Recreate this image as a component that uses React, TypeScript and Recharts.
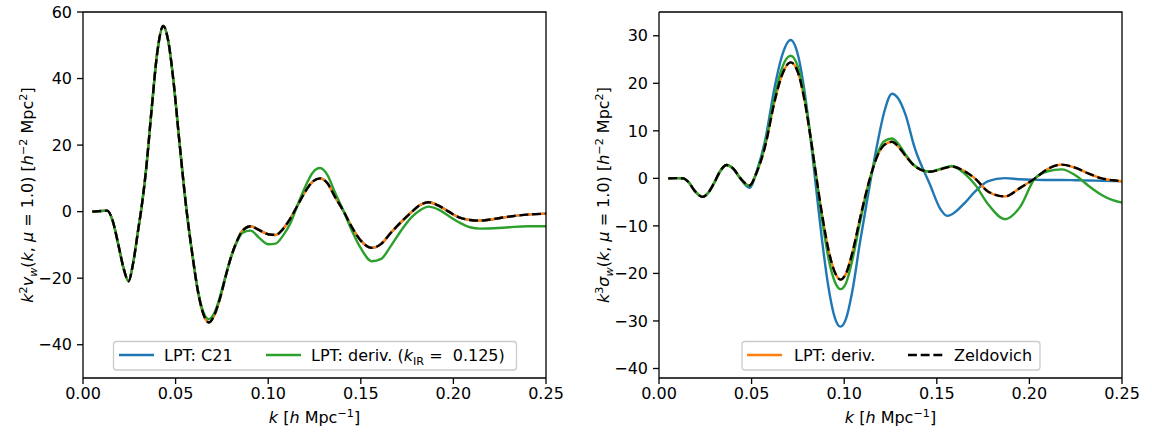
import React from 'react';
import { LineChart, Line, XAxis, YAxis } from 'recharts';

const FONT = '"DejaVu Sans", Verdana, sans-serif';
const BLUE = '#1f77b4';
const ORANGE = '#ff7f0e';
const GREEN = '#2ca02c';
const BLACK = '#000000';

const kTicks = [0, 0.05, 0.1, 0.15, 0.2, 0.25];
const velTicks = [-40, -20, 0, 20, 40, 60];
const sigTicks = [-40, -30, -20, -10, 0, 10, 20, 30];

// left panel: k^2 v_w
const velK = [0.005, 0.010, 0.013, 0.016, 0.019, 0.022, 0.0246, 0.027, 0.030, 0.0313, 0.034, 0.037, 0.040, 0.0433, 0.046, 0.049, 0.052, 0.056, 0.059, 0.062, 0.065, 0.068, 0.071, 0.074, 0.077, 0.080, 0.083, 0.086, 0.0905, 0.095, 0.100, 0.104, 0.108, 0.112, 0.116, 0.120, 0.124, 0.128, 0.132, 0.136, 0.1408, 0.145, 0.150, 0.156, 0.161, 0.166, 0.172, 0.1776, 0.182, 0.1866, 0.192, 0.1975, 0.203, 0.209, 0.2144, 0.222, 0.230, 0.240, 0.250];
const velZel = [0, 0.2, 0.3, -2.7, -9.7, -17.2, -20.9, -15.7, -4.7, 0, 12.3, 30.4, 47.4, 55.8, 51.4, 38.5, 21.3, 0, -12.7, -23.8, -30.8, -33.3, -31, -26, -19.5, -13.5, -9, -5.8, -4.4, -5.5, -6.8, -7.0, -5.2, -2, 2, 6, 9, 10, 8.5, 4.5, 0, -4.5, -8.7, -10.9, -9.7, -6.5, -3, 0, 2, 2.8, 1.8, 0, -1.7, -2.5, -2.7, -2.2, -1.5, -0.9, -0.6];
// C21 and LPT: deriv. sit on top of Zeldovich in this panel
const velC21 = velZel;
const velDeriv = velZel;
const velKir = [0, 0.2, 0.3, -2.7, -9.7, -17.2, -20.9, -15.7, -4.7, 0, 12.3, 30.4, 47.4, 55.8, 51.4, 38.5, 21.3, 0, -12.7, -23.5, -30.2, -32.3, -30.3, -25.5, -19.3, -13.6, -9.3, -6.4, -5.7, -7.8, -9.8, -9.6, -7.2, -3.5, 2.2, 7.5, 11.7, 13.1, 11, 5.8, 0, -5.5, -11, -14.9, -14.2, -10.5, -5.5, -1.6, 0.4, 1.5, 0.6, -1.3, -3.2, -4.7, -5.1, -5.0, -4.7, -4.4, -4.4];

// right panel: k^3 sigma_w
const sigK = [0.005, 0.010, 0.013, 0.016, 0.019, 0.0236, 0.027, 0.030, 0.033, 0.0365, 0.040, 0.044, 0.0488, 0.053, 0.0572, 0.0626, 0.0662, 0.0711, 0.075, 0.0788, 0.082, 0.0845, 0.088, 0.0915, 0.095, 0.098, 0.101, 0.1045, 0.1085, 0.1139, 0.118, 0.1215, 0.1258, 0.129, 0.133, 0.138, 0.1463, 0.152, 0.1555, 0.158, 0.165, 0.1706, 0.1778, 0.1868, 0.195, 0.203, 0.210, 0.2174, 0.225, 0.232, 0.239, 0.245, 0.250];
const sigZel = [0, 0.05, 0, -0.8, -2.5, -3.9, -2.8, -0.8, 1.5, 2.8, 2.1, 0, -1.5, 1.5, 6.6, 16.5, 21.5, 24.4, 22.3, 16, 8.2, 1.5, -7.5, -15, -19.8, -21.3, -20, -15.5, -8.5, 0, 4.8, 7.0, 7.7, 6.8, 4.8, 2.6, 1.4, 1.9, 2.3, 2.5, 1.5, 0, -2.8, -3.8, -2.0, 0, 2.0, 2.9, 2.2, 1.0, 0, -0.4, -0.6];
const sigDeriv = sigZel;
const sigC21 = [0, 0.05, 0, -0.8, -2.5, -3.9, -2.8, -0.8, 1.5, 2.8, 2.0, -0.1, -2.0, 1.8, 7.8, 19.5, 25.5, 29.1, 26.0, 17.7, 7.8, -0.9, -12.9, -22.9, -29.4, -31.2, -29.5, -23.5, -13.5, -1.2, 7.5, 13.8, 17.8, 16.9, 13.5, 6.5, -1.3, -6.5, -7.9, -7.6, -5.2, -2.8, -0.6, 0.05, -0.2, -0.3, -0.35, -0.35, -0.4, -0.45, -0.5, -0.55, -0.6];
const sigKir = [0, 0.05, 0, -0.8, -2.5, -3.9, -2.8, -0.8, 1.5, 2.8, 2.1, 0, -1.6, 1.6, 7.0, 17.5, 23, 25.8, 23.5, 16.8, 8.4, 1.4, -8.5, -16.8, -21.8, -23.3, -22, -17, -9.3, -0.2, 5.2, 7.8, 8.4, 7.4, 5.1, 2.7, 1.4, 2.0, 2.4, 2.6, 1.0, -1.3, -5.5, -8.6, -6.0, 0.0, 1.5, 1.9, 0.6, -1.6, -3.5, -4.6, -5.1];

const pts = (ks: number[], vs: number[]) => ks.map((k, i) => ({ k, v: vs[i] }));
const fmtK = (v: number) => v.toFixed(2);
const fmtY = (v: number) => (v < 0 ? '\u2212' + Math.abs(v) : String(v));

type Part = { t: string; i?: boolean; sup?: boolean; sub?: boolean };

const renderParts = (parts: Part[], size = 16) => {
  let cur = 0;
  return parts.map((p, idx) => {
    const shift = p.sup ? -0.4 * size : p.sub ? 0.22 * size : 0;
    const dy = shift - cur;
    cur = shift;
    return (
      <tspan key={idx} dy={dy} fontStyle={p.i ? 'italic' : 'normal'} fontSize={p.sup || p.sub ? size * 0.7 : size}>
        {p.t}
      </tspan>
    );
  });
};

const velLabel: Part[] = [
  { t: 'k', i: true }, { t: '2', sup: true }, { t: 'v', i: true }, { t: 'w', i: true, sub: true },
  { t: '(' }, { t: 'k', i: true }, { t: ', ' }, { t: 'μ', i: true }, { t: ' = 1.0) [' },
  { t: 'h', i: true }, { t: '\u22122', sup: true }, { t: ' Mpc' }, { t: '2', sup: true }, { t: ']' },
];
const sigLabel: Part[] = [
  { t: 'k', i: true }, { t: '3', sup: true }, { t: 'σ', i: true }, { t: 'w', i: true, sub: true },
  { t: '(' }, { t: 'k', i: true }, { t: ', ' }, { t: 'μ', i: true }, { t: ' = 1.0) [' },
  { t: 'h', i: true }, { t: '\u22122', sup: true }, { t: ' Mpc' }, { t: '2', sup: true }, { t: ']' },
];
const kLabel: Part[] = [{ t: 'k', i: true }, { t: ' [' }, { t: 'h', i: true }, { t: ' Mpc' }, { t: '\u22121', sup: true }, { t: ']' }];

type Series = { data: { k: number; v: number }[]; color: string; dash?: string };

function Panel({ series, yDomain, yTicks }: { series: Series[]; yDomain: number[]; yTicks: number[] }) {
  const tickStyle = { fill: '#000', fontSize: 16, fontFamily: FONT };
  const axisLine = { stroke: '#000', strokeWidth: 1.3 };
  return (
    <LineChart width={576} height={432} margin={{ top: 12, right: 30, bottom: 24, left: 23 }}>
      <XAxis dataKey="k" type="number" domain={[0, 0.25]} ticks={kTicks} tickFormatter={fmtK} allowDataOverflow
        height={30} tick={tickStyle} tickSize={6} tickMargin={4} axisLine={axisLine} tickLine={axisLine} />
      <YAxis type="number" domain={yDomain} ticks={yTicks} tickFormatter={fmtY} allowDataOverflow
        width={60} tick={tickStyle} tickSize={6} tickMargin={5} axisLine={axisLine} tickLine={axisLine} />
      {series.map((s, i) => (
        <Line key={i} data={s.data} dataKey="v" type="monotone" stroke={s.color} strokeWidth={2.4}
          strokeDasharray={s.dash} dot={false} activeDot={false} isAnimationActive={false} />
      ))}
    </LineChart>
  );
}

const velSeries: Series[] = [
  { data: pts(velK, velC21), color: BLUE },
  { data: pts(velK, velDeriv), color: ORANGE },
  { data: pts(velK, velKir), color: GREEN },
  { data: pts(velK, velZel), color: BLACK, dash: '8.9 3.8' },
];
const sigSeries: Series[] = [
  { data: pts(sigK, sigC21), color: BLUE },
  { data: pts(sigK, sigDeriv), color: ORANGE },
  { data: pts(sigK, sigKir), color: GREEN },
  { data: pts(sigK, sigZel), color: BLACK, dash: '8.9 3.8' },
];

export default function App() {
  return (
    <div style={{ position: 'absolute', left: 0, top: 0, width: 1152, height: 432, background: '#fff' }}>
      <div style={{ position: 'absolute', left: 0, top: 0 }}>
        <Panel series={velSeries} yDomain={[-50, 60]} yTicks={velTicks} />
      </div>
      <div style={{ position: 'absolute', left: 576, top: 0 }}>
        <Panel series={sigSeries} yDomain={[-42, 35]} yTicks={sigTicks} />
      </div>
      <svg width={1152} height={432} style={{ position: 'absolute', left: 0, top: 0, pointerEvents: 'none' }}
        fontFamily={FONT} fill="#000">
        {/* top and right spines */}
        <polyline points="83,12 546,12 546,378" fill="none" stroke="#000" strokeWidth={1.3} />
        <polyline points="659,12 1122,12 1122,378" fill="none" stroke="#000" strokeWidth={1.3} />
        <g style={{ whiteSpace: 'pre' }}>
          <text x={314.5} y={423} textAnchor="middle" fontSize={16}>{renderParts(kLabel)}</text>
          <text x={890.5} y={423} textAnchor="middle" fontSize={16}>{renderParts(kLabel)}</text>
          <text transform="rotate(-90 33 195)" x={33} y={195} textAnchor="middle" fontSize={16}>{renderParts(velLabel)}</text>
          <text transform="rotate(-90 609 195)" x={609} y={195} textAnchor="middle" fontSize={16}>{renderParts(sigLabel)}</text>

          {/* left legend */}
          <rect x={113.5} y={341.5} width={403} height={28.5} rx={3} fill="#fff" fillOpacity={0.8} stroke="#cccccc" strokeWidth={1.3} />
          <line x1={119} x2={154} y1={355} y2={355} stroke={BLUE} strokeWidth={2.4} />
          <text x={164} y={361} fontSize={16}>LPT: C21</text>
          <line x1={266} x2={301} y1={355} y2={355} stroke={GREEN} strokeWidth={2.4} />
          <text x={311} y={361} fontSize={16}>
            <tspan>LPT: deriv. (</tspan>
            <tspan fontStyle="italic">k</tspan>
            <tspan fontSize={11.2} dy={3.5}>IR</tspan>
            <tspan dy={-3.5}>{' =\u00a0\u00a00.125)'}</tspan>
          </text>

          {/* right legend */}
          <rect x={742} y={341.5} width={298} height={28.5} rx={3} fill="#fff" fillOpacity={0.8} stroke="#cccccc" strokeWidth={1.3} />
          <line x1={747} x2={782} y1={355} y2={355} stroke={ORANGE} strokeWidth={2.4} />
          <text x={794} y={361} fontSize={16}>LPT: deriv.</text>
          <line x1={908} x2={943} y1={355} y2={355} stroke={BLACK} strokeWidth={2.4} strokeDasharray="8.9 3.8" />
          <text x={954} y={361} fontSize={16}>Zeldovich</text>
        </g>
      </svg>
    </div>
  );
}
